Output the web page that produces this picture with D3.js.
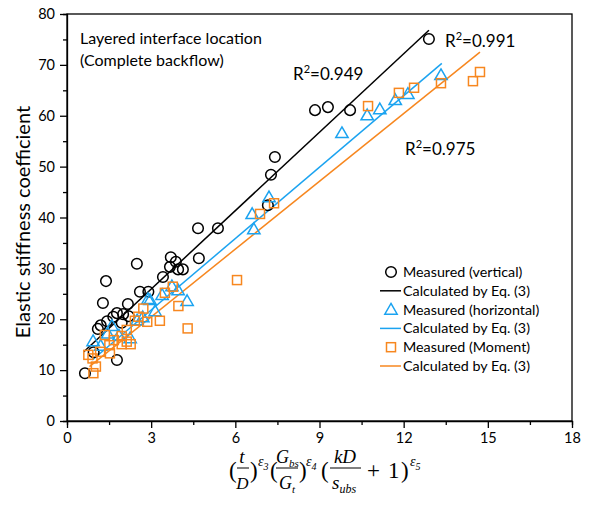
<!DOCTYPE html>
<html>
<head>
<meta charset="utf-8">
<script src="https://cdn.jsdelivr.net/npm/d3@7"></script>
<style>
  body { margin: 0; background: #fff; }
  svg { display: block; font-family: Lato, "Open Sans", sans-serif; }
  .axis path, .axis line { stroke: #000; stroke-width: 1.3; }
  .axis text { font-size: 14.5px; fill: #000; font-family: Lato, sans-serif; }
  .math text { font-family: "Liberation Serif", "DejaVu Serif", serif; fill: #000; }
</style>
</head>
<body>
<script>
var vertX = [0.64, 0.95, 1.1, 1.2, 1.28, 1.39, 1.43, 1.65, 1.78, 1.78, 1.95, 2.0, 2.17, 2.2, 2.49, 2.6, 2.9,
             3.42, 3.67, 3.7, 3.88, 3.96, 4.13, 4.67, 4.7, 5.38, 7.16, 7.27, 7.41, 8.84, 9.3, 10.09, 12.9];
var vertY = [9.4, 13.5, 18.1, 18.8, 23.2, 27.5, 19.6, 20.5, 21.2, 12.0, 19.3, 21.0, 23.0, 20.6, 30.9, 25.4, 25.4,
             28.3, 30.3, 32.2, 31.3, 29.8, 29.8, 37.9, 32.0, 37.9, 42.4, 48.4, 51.9, 61.1, 61.7, 61.1, 75.1];

var horzX = [0.93, 1.2, 1.45, 1.6, 1.85, 2.25, 2.5, 2.7, 2.89, 2.96, 3.14, 3.39, 3.74, 3.96, 4.28,
             6.6, 6.66, 7.2, 9.8, 10.7, 11.15, 11.7, 12.15, 13.33];
var horzY = [15.7, 14.8, 17.2, 18.7, 16.8, 16.3, 19.8, 20.4, 24.0, 23.8, 21.6, 24.8, 26.5, 25.7, 23.6,
             40.7, 37.7, 44.0, 56.6, 60.1, 61.3, 63.1, 64.3, 68.0];

var momX = [0.76, 0.91, 1.03, 0.94, 1.18, 1.35, 1.51, 1.53, 1.67, 1.95, 1.95, 2.13, 2.27, 2.13, 2.42, 2.54,
            2.72, 2.86, 3.31, 3.49, 3.77, 3.97, 4.3, 6.06, 6.88, 7.38, 10.73, 11.83, 12.37, 13.33, 14.47, 14.72];
var momY = [13.0, 12.3, 10.7, 9.4, 13.6, 16.9, 14.9, 13.3, 15.9, 16.7, 15.1, 15.6, 15.1, 17.9, 19.7, 20.5,
            22.1, 19.5, 19.7, 25.2, 26.4, 22.6, 18.2, 27.7, 40.7, 42.8, 61.9, 64.5, 65.5, 66.4, 66.8, 68.6];

// calculated lines (end points)
var calcVert = [[0.6, 13.6], [12.9, 76.8]];
var calcHorz = [[0.9, 12.0], [13.36, 70.3]];
var calcMom = [[0.8, 10.7], [14.72, 72.5]];

var xTicks = [0, 3, 6, 9, 12, 15, 18];
var xMinor = [1.5, 4.5, 7.5, 10.5, 13.5, 16.5];
var yTicks = [0, 10, 20, 30, 40, 50, 60, 70, 80];
var yMinor = [5, 15, 25, 35, 45, 55, 65, 75];

var legendLabels = ["Measured (vertical)", "Calculated by Eq. (3)", "Measured (horizontal)",
                    "Calculated by Eq. (3)", "Measured (Moment)", "Calculated by Eq. (3)"];
var r2Labels = ["0.949", "0.991", "0.975"];

var BLACK = "#000", BLUE = "#1ba3f0", ORANGE = "#f7871f";

var width = 591, height = 512;
var svg = d3.select("body").append("svg").attr("width", width).attr("height", height);

var x = d3.scaleLinear().domain([0, 18]).range([67, 572]);
var y = d3.scaleLinear().domain([0, 80]).range([421, 14]);

function zip(a, b) { return a.map(function(v, i) { return [v, b[i]]; }); }

// frame
svg.append("rect")
    .attr("x", x(0)).attr("y", y(80))
    .attr("width", x(18) - x(0)).attr("height", y(0) - y(80))
    .attr("fill", "none").attr("stroke", "#000").attr("stroke-width", 1.3);

// axes
svg.append("g").attr("class", "axis")
    .attr("transform", "translate(0," + y(0) + ")")
    .call(d3.axisBottom(x).tickValues(xMinor).tickSize(4).tickFormat(""));
svg.append("g").attr("class", "axis")
    .attr("transform", "translate(0," + y(0) + ")")
    .call(d3.axisBottom(x).tickValues(xTicks).tickSize(7).tickPadding(5))
    .call(function(g) { g.select(".domain").remove(); });
svg.append("g").attr("class", "axis")
    .attr("transform", "translate(" + x(0) + ",0)")
    .call(d3.axisLeft(y).tickValues(yMinor).tickSize(4).tickFormat(""));
svg.append("g").attr("class", "axis")
    .attr("transform", "translate(" + x(0) + ",0)")
    .call(d3.axisLeft(y).tickValues(yTicks).tickSize(7).tickPadding(5))
    .call(function(g) { g.select(".domain").remove(); });

// y title
svg.append("text")
    .attr("transform", "translate(30," + 222 + ") rotate(-90)")
    .attr("text-anchor", "middle")
    .attr("font-size", 20)
    .text("Elastic stiffness coefficient");

// calculated lines
var line = d3.line().x(function(d) { return x(d[0]); }).y(function(d) { return y(d[1]); });
[[calcVert, BLACK], [calcHorz, BLUE], [calcMom, ORANGE]].forEach(function(c) {
  svg.append("path").attr("d", line(c[0]))
      .attr("fill", "none").attr("stroke", c[1]).attr("stroke-width", 1.5);
});

// markers
var tri = d3.symbol().type(d3.symbolTriangle).size(66);
function drawCircles(g, pts) {
  g.selectAll("circle").data(pts).enter().append("circle")
      .attr("cx", function(d) { return x(d[0]); })
      .attr("cy", function(d) { return y(d[1]); })
      .attr("r", 5.3).attr("fill", "none").attr("stroke", BLACK).attr("stroke-width", 1.5);
}
function drawTriangles(g, pts) {
  g.selectAll("path").data(pts).enter().append("path")
      .attr("d", tri)
      .attr("transform", function(d) { return "translate(" + x(d[0]) + "," + (y(d[1]) + 1) + ")"; })
      .attr("fill", "none").attr("stroke", BLUE).attr("stroke-width", 1.5);
}
function drawSquares(g, pts) {
  g.selectAll("rect").data(pts).enter().append("rect")
      .attr("x", function(d) { return x(d[0]) - 4.5; })
      .attr("y", function(d) { return y(d[1]) - 4.5; })
      .attr("width", 9).attr("height", 9)
      .attr("fill", "none").attr("stroke", ORANGE).attr("stroke-width", 1.5);
}
drawCircles(svg.append("g"), zip(vertX, vertY));
drawTriangles(svg.append("g"), zip(horzX, horzY));
drawSquares(svg.append("g"), zip(momX, momY));

// annotations
svg.append("text").attr("x", 80).attr("y", 44).attr("font-size", 16).text("Layered interface location");
svg.append("text").attr("x", 80).attr("y", 66).attr("font-size", 16).text("(Complete backflow)");

var r2Pos = [[293, 80], [445, 47], [405, 155]];
r2Labels.forEach(function(v, i) {
  var t = svg.append("text").attr("x", r2Pos[i][0]).attr("y", r2Pos[i][1]).attr("font-size", 17);
  t.append("tspan").text("R");
  t.append("tspan").attr("dy", -7).attr("font-size", 11).text("2");
  t.append("tspan").attr("dy", 7).text("=" + v);
});

// legend
var leg = svg.append("g").attr("transform", "translate(0,272)");
legendLabels.forEach(function(lab, i) {
  var ly = i * 18.8;
  var g = leg.append("g").attr("transform", "translate(0," + ly + ")");
  var col = [BLACK, BLUE, ORANGE][Math.floor(i / 2)];
  if (i % 2 === 1) {
    g.append("line").attr("x1", 380).attr("x2", 401).attr("y1", 0).attr("y2", 0)
        .attr("stroke", col).attr("stroke-width", 1.5);
  } else if (i === 0) {
    g.append("circle").attr("cx", 391).attr("cy", 0).attr("r", 5.3)
        .attr("fill", "none").attr("stroke", col).attr("stroke-width", 1.5);
  } else if (i === 2) {
    g.append("path").attr("d", tri).attr("transform", "translate(391,1)")
        .attr("fill", "none").attr("stroke", col).attr("stroke-width", 1.5);
  } else {
    g.append("rect").attr("x", 386.5).attr("y", -4.5).attr("width", 9).attr("height", 9)
        .attr("fill", "none").attr("stroke", col).attr("stroke-width", 1.5);
  }
  g.append("text").attr("x", 403).attr("y", 5).attr("font-size", 14.3).text(lab);
});

// x title: (t/D)^e3 (Gbs/Gt)^e4 (kD/subs + 1)^e5
var m = svg.append("g").attr("class", "math").attr("transform", "translate(229,478)");
function up(s, px, size) {
  m.append("text").attr("x", px).attr("y", 0).attr("font-size", size || 23).text(s);
}
function it(s, px, py, size, anchor) {
  return m.append("text").attr("x", px).attr("y", py).attr("font-size", size || 19)
      .attr("font-style", "italic").attr("text-anchor", anchor || "start").text(s);
}
function sub(t, s, size) {
  t.append("tspan").attr("dy", 4).attr("font-size", size || 11.5).text(s);
}
function bar(x1, x2) {
  m.append("line").attr("x1", x1).attr("x2", x2).attr("y1", -10).attr("y2", -10)
      .attr("stroke", "#000").attr("stroke-width", 1);
}
function eps(px, n) {
  var t = it("\u03b5", px, -12, 14);
  sub(t, n, 10);
}
up("(", 0);
it("t", 13, -15, 19, "middle");
bar(8, 20);
it("D", 13.5, 11, 17, "middle");
up(")", 21);
eps(29, "3");
up("(", 41);
var gn = it("G", 47, -15, 18); sub(gn, "bs", 11);
bar(47, 69);
var gd = it("G", 50, 11, 18); sub(gd, "t", 11);
up(")", 70);
eps(77, "4");
up("(", 92);
it("kD", 116, -15, 19, "middle");
bar(101, 132);
var sd = it("s", 103, 11, 19); sub(sd, "ubs", 12);
up("+", 138);
up("1", 159);
up(")", 172);
eps(181, "5");
</script>
</body>
</html>
